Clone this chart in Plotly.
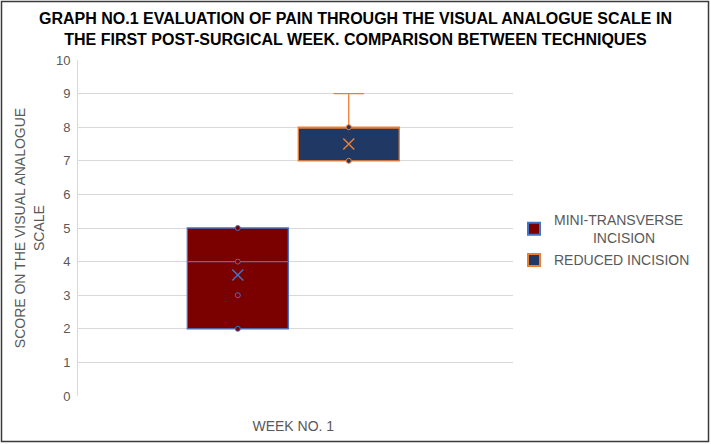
import plotly.graph_objects as go

# ---- data ----
series_names = ["MINI-TRANSVERSE INCISION", "REDUCED INCISION"]
legend_labels = ["MINI-TRANSVERSE<br>\u00a0\u00a0\u00a0\u00a0\u00a0\u00a0\u00a0\u00a0\u00a0\u00a0INCISION", "REDUCED INCISION"]
category_label = "WEEK NO. 1"
box_min = [2, 7]
box_q1 = [2, 7]
box_median = [4, 8]
box_q3 = [5, 8]
box_max = [5, 9]
box_mean = [3.6, 7.5]
inner_points = [[5, 4, 3, 2], [8, 7]]
y_ticks = [0, 1, 2, 3, 4, 5, 6, 7, 8, 9, 10]

# ---- style ----
fills = ["#7B0000", "#1F3864"]
edges = ["#4472C4", "#ED7D31"]
positions = [-0.5, 0.5]

W, H = 711, 444
L, R, T, B = 78, 198, 60, 48
pw, ph = W - L - R, H - T - B

fig = go.Figure()
for i in range(2):
    fig.add_trace(go.Box(
        x=[positions[i]], q1=[box_q1[i]], median=[box_median[i]], q3=[box_q3[i]],
        lowerfence=[box_min[i]], upperfence=[box_max[i]],
        name=legend_labels[i], fillcolor=fills[i],
        line=dict(color=edges[i], width=1.3), width=0.91, whiskerwidth=0.3,
        boxpoints=False, hoverinfo="skip", legendgroup=str(i), showlegend=True,
    ))
    fig.add_trace(go.Scatter(
        x=[positions[i]] * len(inner_points[i]), y=inner_points[i], mode="markers",
        marker=dict(symbol="circle", size=5, color=fills[i], line=dict(color=edges[i], width=1)),
        showlegend=False, hoverinfo="skip", legendgroup=str(i),
    ))
    fig.add_trace(go.Scatter(
        x=[positions[i]], y=[box_mean[i]], mode="markers",
        marker=dict(symbol="x-thin-open", size=11, color=edges[i], line=dict(color=edges[i], width=1.5)),
        showlegend=False, hoverinfo="skip", legendgroup=str(i),
    ))

fig.add_shape(type="rect", xref="paper", yref="paper",
              x0=(1.5 - L) / pw, x1=(708.5 - L) / pw,
              y0=(T + ph - 441.5) / ph, y1=(T + ph - 1.5) / ph,
              line=dict(color="#3a3a3a", width=1.5), fillcolor="rgba(0,0,0,0)", layer="above")

gray = "#595959"
fig.update_layout(
    width=W, height=H, margin=dict(l=L, r=R, t=T, b=B, autoexpand=False),
    paper_bgcolor="white", plot_bgcolor="white",
    font=dict(family="Liberation Sans, Arial, sans-serif", size=14, color=gray),
    title=dict(
        text="<b>GRAPH NO.1 EVALUATION OF PAIN THROUGH THE VISUAL ANALOGUE SCALE IN<br>THE FIRST POST-SURGICAL WEEK. COMPARISON BETWEEN TECHNIQUES</b>",
        x=0.5, xanchor="center", y=1 - 24 / H, yanchor="middle", yref="container",
        font=dict(family="Liberation Sans Narrow, Arial Narrow, Liberation Sans, sans-serif", size=16, color="black"),
    ),
    boxmode="overlay",
    xaxis=dict(range=[-1.94, 1.98], tickvals=[0], ticktext=[category_label], showgrid=False,
               zeroline=False, showline=False, ticks="", ticklabelstandoff=20,
               tickfont=dict(size=14, color=gray)),
    yaxis=dict(range=[0, 10], tickvals=y_ticks, showgrid=True, gridcolor="#D9D9D9", gridwidth=1,
               zeroline=False, showline=True, linecolor="#D9D9D9", ticks="", ticklabelstandoff=4,
               tickfont=dict(size=13, color=gray),
               title=dict(text="SCORE ON THE VISUAL ANALOGUE<br>SCALE", standoff=8,
                          font=dict(size=14, color=gray))),
    legend=dict(x=(514 - L) / pw, y=(T + ph - 204) / ph, xanchor="left", yanchor="top",
                font=dict(size=14, color=gray), tracegroupgap=1, itemsizing="constant",
                bgcolor="rgba(0,0,0,0)"),
)

fig.write_html("out.html", config={"displayModeBar": False},
               post_script="document.body.style.margin='0';document.body.style.padding='0';")
